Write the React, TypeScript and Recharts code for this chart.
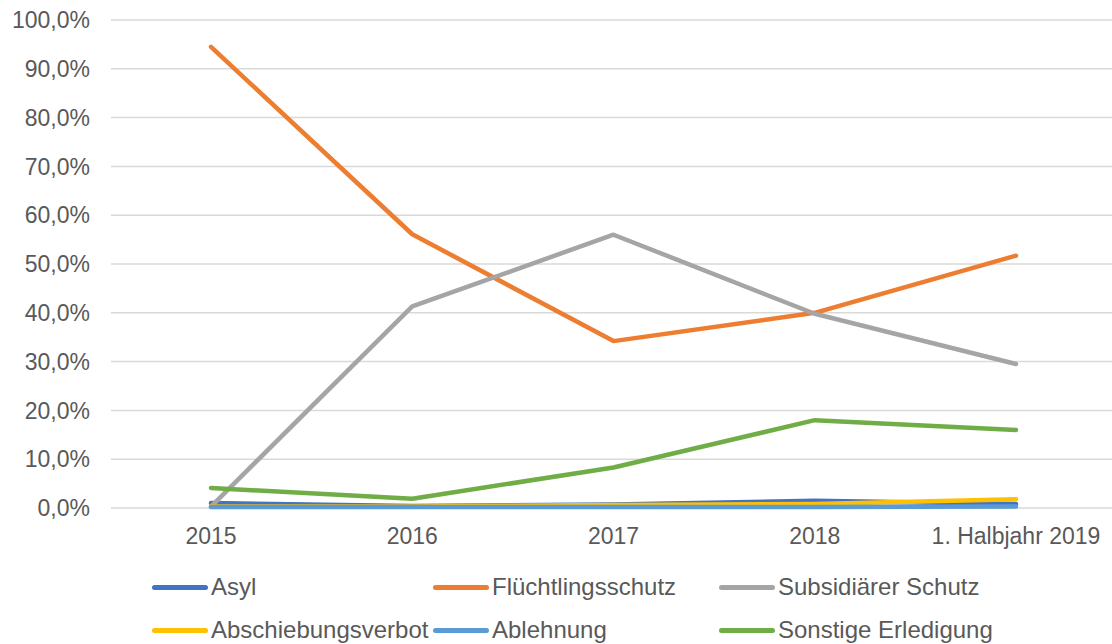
import React from "react";
import { CartesianGrid, Line, LineChart, XAxis, YAxis } from "recharts";

const years = ["2015", "2016", "2017", "2018", "1. Halbjahr 2019"];

// Anteile in Prozent
const asyl = [1.0, 0.4, 0.7, 1.5, 0.8];
const fluechtlingsschutz = [94.5, 56.1, 34.2, 40.0, 51.7];
const subsidiaer = [0.3, 41.3, 56.0, 39.8, 29.5];
const abschiebungsverbot = [0.3, 0.3, 0.6, 0.8, 1.8];
const ablehnung = [0.2, 0.2, 0.2, 0.2, 0.3];
const sonstige = [4.1, 1.9, 8.3, 18.0, 16.0];

const yTicks = [0, 10, 20, 30, 40, 50, 60, 70, 80, 90, 100];

const series = [
  { key: "asyl", name: "Asyl", color: "#4472C4" },
  { key: "fluechtlingsschutz", name: "Flüchtlingsschutz", color: "#ED7D31" },
  { key: "subsidiaer", name: "Subsidiärer Schutz", color: "#A5A5A5" },
  { key: "abschiebungsverbot", name: "Abschiebungsverbot", color: "#FFC000" },
  { key: "ablehnung", name: "Ablehnung", color: "#5B9BD5" },
  { key: "sonstige", name: "Sonstige Erledigung", color: "#70AD47" },
];

const data = years.map((year, i) => ({
  year,
  asyl: asyl[i],
  fluechtlingsschutz: fluechtlingsschutz[i],
  subsidiaer: subsidiaer[i],
  abschiebungsverbot: abschiebungsverbot[i],
  ablehnung: ablehnung[i],
  sonstige: sonstige[i],
}));

const font = "'Liberation Sans', Arial, sans-serif";
const textColor = "#595959";

// legend slots: 3 columns, 2 rows
const legendCols = [152, 433, 719];
const legendRows = [587, 630];

const formatPct = (v: number) => `${v.toFixed(1).replace(".", ",")}%`;

function ChartLegend() {
  return (
    <>
      {series.map((s, i) => {
        const left = legendCols[i % 3];
        const top = legendRows[Math.floor(i / 3)];
        return (
          <div
            key={s.key}
            style={{
              position: "absolute",
              left,
              top: top - 15,
              height: 30,
              display: "flex",
              alignItems: "center",
              whiteSpace: "nowrap",
              fontFamily: font,
              fontSize: 24,
              color: textColor,
            }}
          >
            <span
              style={{
                display: "inline-block",
                width: 56,
                height: 5,
                borderRadius: 3,
                background: s.color,
                marginRight: 3,
              }}
            />
            {s.name}
          </div>
        );
      })}
    </>
  );
}

export default function App() {
  return (
    <div
      style={{
        position: "absolute",
        left: 0,
        top: 0,
        width: 1112,
        height: 644,
        overflow: "hidden",
        background: "#fff",
      }}
    >
      <LineChart
        width={1117}
        height={644}
        data={data}
        margin={{ top: 20, right: 0, left: 0, bottom: 96 }}
      >
        <CartesianGrid vertical={false} stroke="#d9d9d9" strokeWidth={1.5} />
        <XAxis
          dataKey="year"
          height={40}
          axisLine={false}
          tickLine={false}
          tickSize={0}
          tickMargin={20}
          interval={0}
          padding={{ left: 100, right: 101 }}
          tick={{ fill: textColor, fontSize: 23, fontFamily: font }}
        />
        <YAxis
          width={111}
          domain={[0, 100]}
          ticks={yTicks}
          axisLine={false}
          tickLine={false}
          tickSize={0}
          tickMargin={21}
          tickFormatter={formatPct}
          tick={{ fill: textColor, fontSize: 23, fontFamily: font }}
        />
        {series.map((s) => (
          <Line
            key={s.key}
            type="linear"
            dataKey={s.key}
            name={s.name}
            stroke={s.color}
            strokeWidth={4.5}
            strokeLinecap="round"
            strokeLinejoin="round"
            dot={false}
            activeDot={false}
            isAnimationActive={false}
          />
        ))}
      </LineChart>
      <ChartLegend />
    </div>
  );
}
